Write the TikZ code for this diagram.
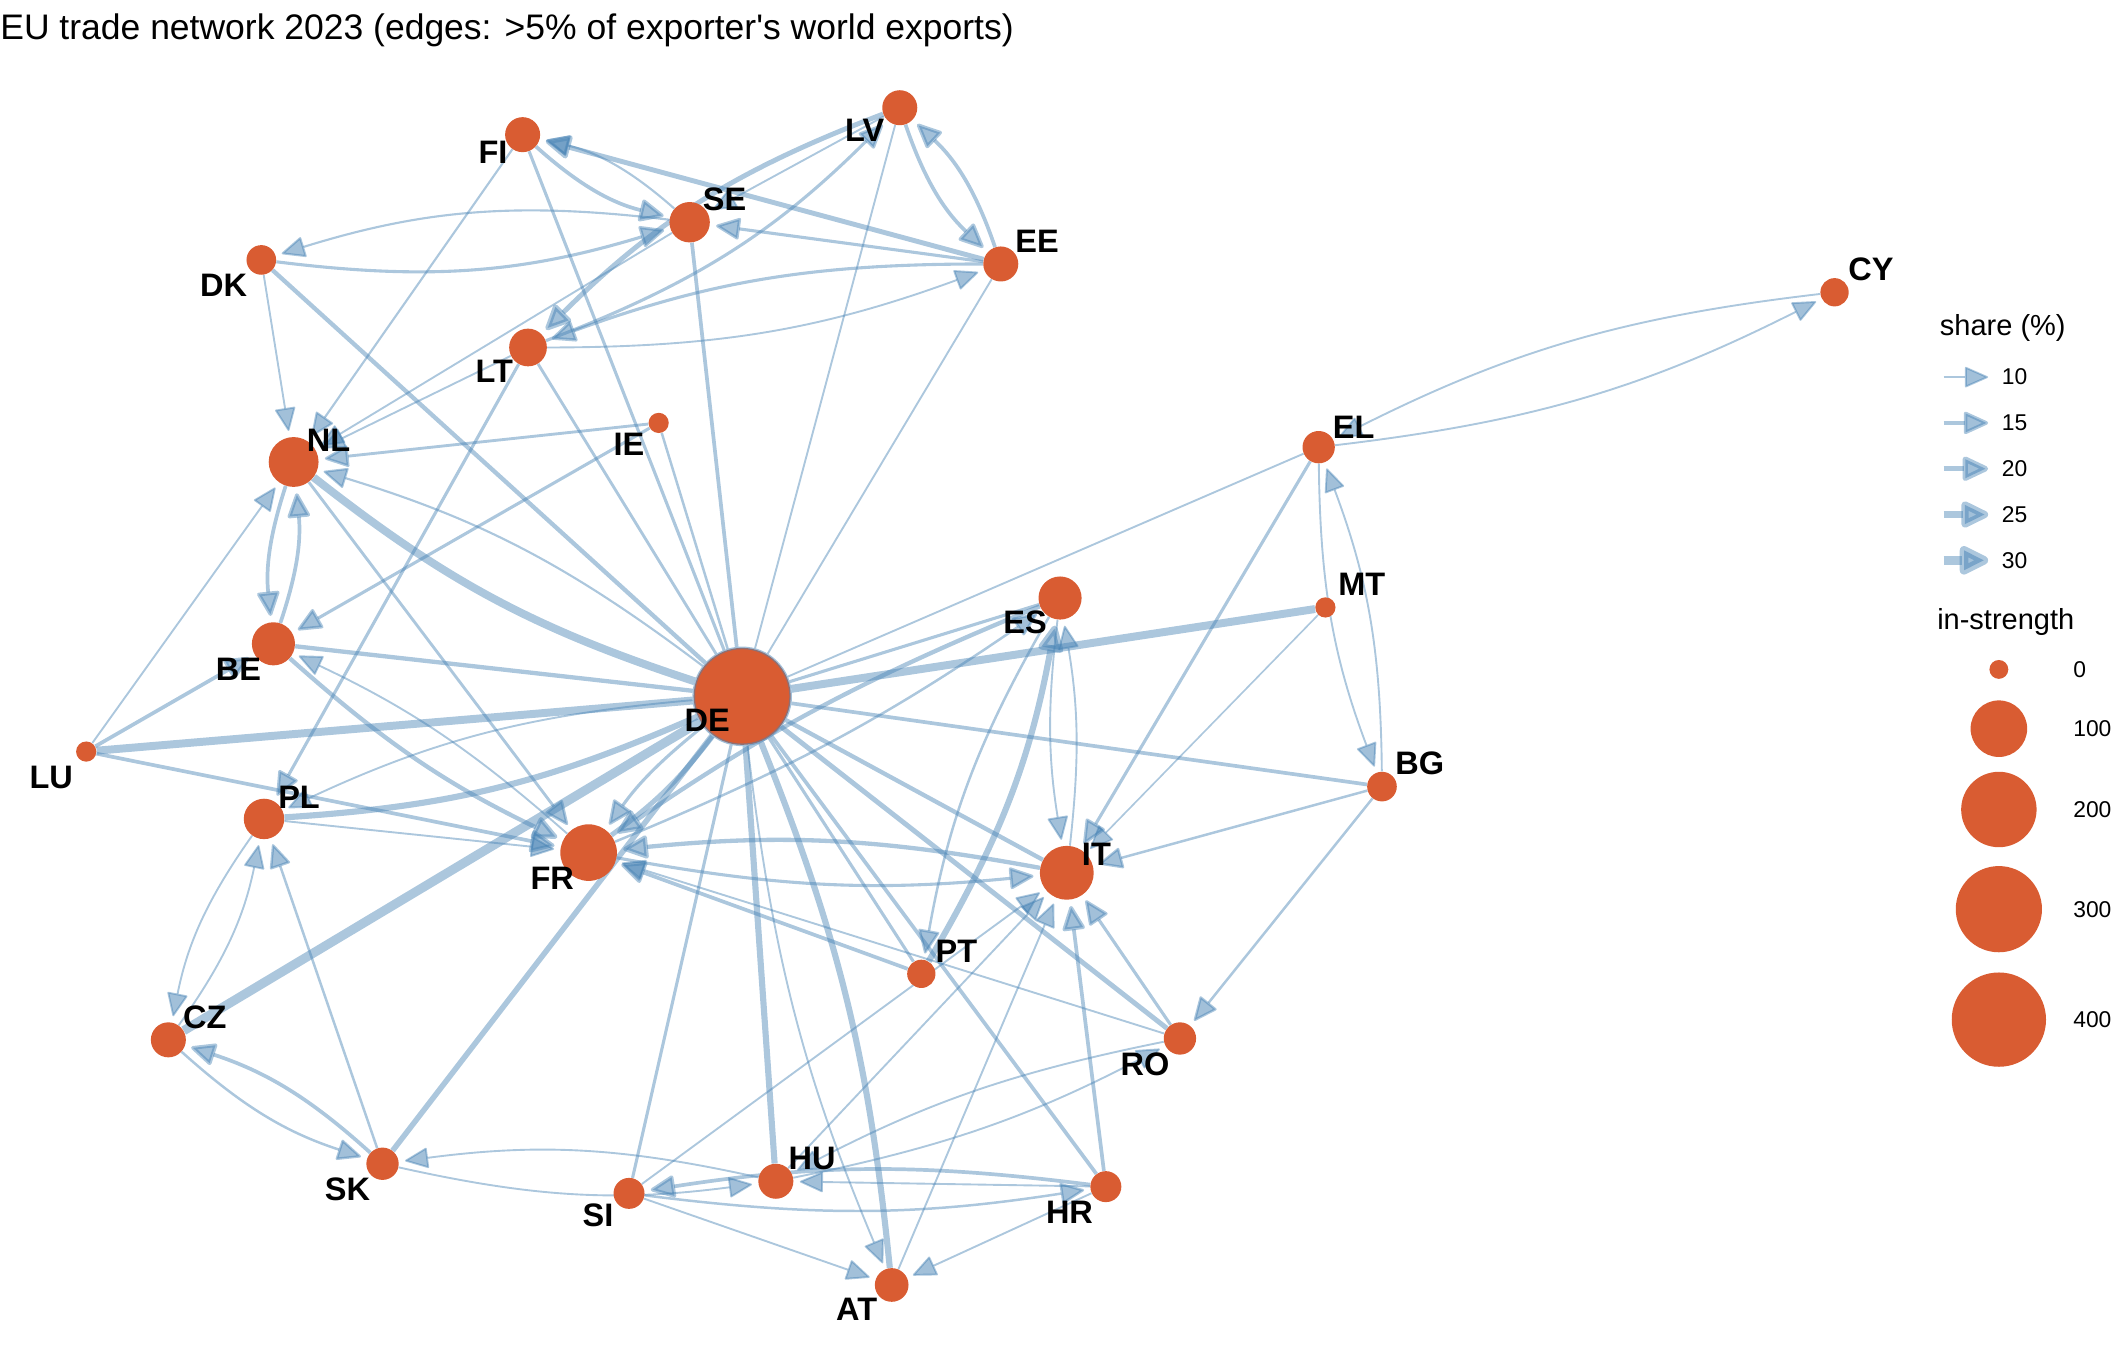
\documentclass[tikz,border=0pt]{standalone}
\usepackage{fontspec}
\setmainfont{Liberation Sans}
\usetikzlibrary{arrows.meta}
\definecolor{steel}{HTML}{4682B4}
\definecolor{nodeor}{HTML}{D95C32}
\pgfdeclarelayer{edges}
\pgfsetlayers{edges,main}
\begin{document}
\begin{tikzpicture}[x=0.7665pt,y=0.7665pt,
 cn/.style={circle,fill=nodeor,inner sep=0pt,minimum size=#1*1.533pt},
 lw/.style={line width=(#1*0.9+0.5)*0.7665pt},
 ed/.style={draw=steel,draw opacity=0.45,fill opacity=0.5,-{Triangle[length=12.5pt 1.4,width=10.5pt 1.4,fill=steel,round]},shorten >=3.5pt},
 edd/.style={draw=steel,draw opacity=0.45},
 lab/.style={font=\fontsize{18.5}{20}\selectfont\bfseries,inner sep=0pt},
 legt/.style={font=\fontsize{16.5}{18}\selectfont,inner sep=0pt,anchor=base west},
 legn/.style={font=\fontsize{13}{15}\selectfont,inner sep=0pt,anchor=west}]
\useasboundingbox (0,0) rectangle (1568,998);
% title
\node[anchor=base west,font=\fontsize{20.2}{24}\selectfont,inner sep=0pt] (title) at (0,969) {EU trade network 2023 (edges: >5\% of exporter\textquotesingle s world exports)};
% nodes
\node[cn=13] (FI) at (388,898) {};
\node[cn=13] (LV) at (668,918) {};
\node[cn=15] (SE) at (512,833) {};
\node[cn=13] (EE) at (743,802) {};
\node[cn=11] (DK) at (194,805) {};
\node[cn=14] (LT) at (392,740) {};
\node[cn=7.5] (IE) at (489,684) {};
\node[cn=18.5] (NL) at (218,655) {};
\node[cn=12] (EL) at (979,666) {};
\node[cn=10.5] (CY) at (1362,781) {};
\node[cn=7.5] (MT) at (984,547) {};
\node[cn=16] (ES) at (787,554) {};
\node[cn=16] (BE) at (203,520) {};
\node[cn=36,draw=steel,draw opacity=0.5,line width=1.5pt] (DE) at (551,481) {};
\node[cn=7.5] (LU) at (64,440) {};
\node[cn=11] (BG) at (1026,414) {};
\node[cn=15] (PL) at (196,390) {};
\node[cn=21] (FR) at (437,365) {};
\node[cn=20] (IT) at (792,350) {};
\node[cn=10.5] (PT) at (684,275) {};
\node[cn=13] (CZ) at (125,226) {};
\node[cn=12] (RO) at (876,227) {};
\node[cn=12] (SK) at (284,134) {};
\node[cn=13] (HU) at (576,121) {};
\node[cn=11.5] (SI) at (467,112) {};
\node[cn=11.5] (HR) at (821,117) {};
\node[cn=12.5] (AT) at (662,44) {};
% edges
\begin{pgfonlayer}{edges}
\draw[ed,lw=3.5] (EE) -- (FI);
\draw[ed,lw=1.2] (SE) to[bend right=14] (FI);
\draw[ed,lw=2.5] (FI) to[bend right=14] (SE);
\draw[edd,lw=2] (FI) -- (DE);
\draw[ed,lw=1.2] (FI) -- (NL);
\draw[ed,lw=2] (DK) to[bend right=12] (SE);
\draw[ed,lw=1.2] (SE) to[bend right=12] (DK);
\draw[edd,lw=3] (DK) -- (DE);
\draw[ed,lw=1] (DK) -- (NL);
\draw[edd,lw=2.5] (SE) -- (DE);
\draw[ed,lw=1] (SE) -- (NL);
\draw[ed,lw=3.5] (LV) to[bend right=12] (LT);
\draw[ed,lw=2] (LT) to[bend right=12] (LV);
\draw[ed,lw=2] (EE) to[bend right=10] (LT);
\draw[ed,lw=1] (LT) to[bend right=10] (EE);
\draw[edd,lw=1.8] (LT) -- (DE);
\draw[ed,lw=2] (LT) -- (PL);
\draw[ed,lw=1] (LT) -- (NL);
\draw[ed,lw=2.5] (LV) to[bend right=14] (EE);
\draw[ed,lw=2.5] (EE) to[bend right=14] (LV);
\draw[ed,lw=1] (LV) -- (SE);
\draw[ed,lw=2] (EE) -- (SE);
\draw[edd,lw=1] (LV) -- (DE);
\draw[edd,lw=1] (EE) -- (DE);
\draw[edd,lw=6] (NL) to[bend right=10] (DE);
\draw[ed,lw=1.2] (DE) to[bend right=10] (NL);
\draw[ed,lw=2.5] (NL) to[bend right=12] (BE);
\draw[ed,lw=2.5] (BE) to[bend right=12] (NL);
\draw[ed,lw=1.8] (NL) -- (FR);
\draw[ed,lw=1.8] (IE) -- (NL);
\draw[ed,lw=2] (IE) -- (BE);
\draw[edd,lw=1.5] (IE) -- (DE);
\draw[edd,lw=3] (BE) -- (DE);
\draw[ed,lw=3] (BE) to[bend right=8] (FR);
\draw[ed,lw=1] (FR) to[bend right=8] (BE);
\draw[edd,lw=6] (LU) -- (DE);
\draw[ed,lw=2.5] (LU) -- (BE);
\draw[ed,lw=1] (LU) -- (NL);
\draw[ed,lw=2.5] (LU) -- (FR);
\draw[edd,lw=4.5] (PL) to[bend right=10] (DE);
\draw[ed,lw=1] (DE) to[bend right=10] (PL);
\draw[ed,lw=1] (PL) -- (FR);
\draw[ed,lw=1] (PL) to[bend right=12] (CZ);
\draw[ed,lw=1] (CZ) to[bend right=12] (PL);
\draw[ed,lw=1.5] (SK) -- (PL);
\draw[edd,lw=7] (CZ) -- (DE);
\draw[ed,lw=1.5] (CZ) to[bend right=12] (SK);
\draw[ed,lw=2.5] (SK) to[bend right=12] (CZ);
\draw[edd,lw=4] (SK) -- (DE);
\draw[ed,lw=1] (HU) to[bend right=10] (SK);
\draw[ed,lw=1] (SK) to[bend right=10] (HU);
\draw[edd,lw=4.5] (HU) -- (DE);
\draw[edd,lw=4.5] (AT) to[bend right=8] (DE);
\draw[ed,lw=1] (DE) to[bend right=8] (AT);
\draw[edd,lw=2] (SI) -- (DE);
\draw[ed,lw=2.5] (HR) to[bend right=8] (SI);
\draw[ed,lw=1.5] (SI) to[bend right=8] (HR);
\draw[ed,lw=1] (HR) -- (HU);
\draw[ed,lw=1] (SI) -- (AT);
\draw[ed,lw=1] (HR) -- (AT);
\draw[ed,lw=1] (SI) -- (IT);
\draw[ed,lw=1] (HU) -- (IT);
\draw[ed,lw=1] (AT) -- (IT);
\draw[ed,lw=1] (HU) to[bend right=8] (RO);
\draw[ed,lw=1] (RO) to[bend right=8] (HU);
\draw[ed,lw=2] (RO) -- (IT);
\draw[edd,lw=3.5] (RO) -- (DE);
\draw[ed,lw=1] (RO) -- (FR);
\draw[ed,lw=1.5] (BG) -- (RO);
\draw[edd,lw=2.5] (BG) -- (DE);
\draw[ed,lw=1.5] (BG) -- (IT);
\draw[ed,lw=1] (BG) to[bend right=10] (EL);
\draw[ed,lw=1] (EL) to[bend right=10] (BG);
\draw[ed,lw=2.5] (HR) -- (IT);
\draw[edd,lw=2.5] (HR) -- (DE);
\draw[edd,lw=6] (MT) -- (DE);
\draw[ed,lw=0.8] (MT) -- (IT);
\draw[ed,lw=2] (EL) -- (IT);
\draw[edd,lw=1] (EL) -- (DE);
\draw[ed,lw=1] (EL) to[bend right=10] (CY);
\draw[ed,lw=1] (CY) to[bend right=10] (EL);
\draw[edd,lw=2] (ES) -- (DE);
\draw[ed,lw=3] (ES) to[bend right=6] (FR);
\draw[ed,lw=1.5] (FR) to[bend right=6] (ES);
\draw[ed,lw=1] (ES) to[bend right=8] (IT);
\draw[ed,lw=1] (IT) to[bend right=8] (ES);
\draw[ed,lw=1.5] (ES) to[bend right=10] (PT);
\draw[ed,lw=4.5] (PT) to[bend right=10] (ES);
\draw[ed,lw=2.5] (PT) -- (FR);
\draw[edd,lw=2] (PT) -- (DE);
\draw[edd,lw=3] (IT) -- (DE);
\draw[ed,lw=3] (IT) to[bend right=8] (FR);
\draw[ed,lw=2] (FR) to[bend right=8] (IT);
\draw[edd,lw=3.5] (FR) to[bend right=8] (DE);
\draw[ed,lw=2] (DE) to[bend right=8] (FR);
\end{pgfonlayer}
% labels
\node[lab] (lFI) at (366,885) {FI};
\node[lab] (lLV) at (642,901) {LV};
\node[lab] (lSE) at (538,850) {SE};
\node[lab] (lEE) at (770,819) {EE};
\node[lab] (lDK) at (166,786) {DK};
\node[lab] (lLT) at (367,722) {LT};
\node[lab] (lIE) at (467,668) {IE};
\node[lab] (lNL) at (244,671) {NL};
\node[lab] (lEL) at (1005,681) {EL};
\node[lab] (lCY) at (1389,798) {CY};
\node[lab] (lMT) at (1011,564) {MT};
\node[lab] (lES) at (761,536) {ES};
\node[lab] (lBE) at (177,501) {BE};
\node[lab] (lDE) at (525,463) {DE};
\node[lab] (lLU) at (38,421) {LU};
\node[lab] (lBG) at (1054,431) {BG};
\node[lab] (lPL) at (222,406) {PL};
\node[lab] (lFR) at (410,346) {FR};
\node[lab] (lIT) at (814,364) {IT};
\node[lab] (lPT) at (710,292) {PT};
\node[lab] (lCZ) at (152,243) {CZ};
\node[lab] (lRO) at (850,208) {RO};
\node[lab] (lSK) at (258,115) {SK};
\node[lab] (lHU) at (603,138) {HU};
\node[lab] (lSI) at (444,96) {SI};
\node[lab] (lHR) at (794,98) {HR};
\node[lab] (lAT) at (636,26) {AT};
% legend: share
\node[legt] (lshare) at (1440,749) {share (\%)};
\coordinate (a1) at (1443,718); \coordinate (b1) at (1476,718);
\coordinate (a2) at (1443,684); \coordinate (b2) at (1476,684);
\coordinate (a3) at (1443,650); \coordinate (b3) at (1476,650);
\coordinate (a4) at (1443,616); \coordinate (b4) at (1476,616);
\coordinate (a5) at (1443,582); \coordinate (b5) at (1476,582);
\draw[ed,lw=1.0,shorten >=0pt] (a1) -- (b1);
\draw[ed,lw=2.4,shorten >=0pt] (a2) -- (b2);
\draw[ed,lw=3.9,shorten >=0pt] (a3) -- (b3);
\draw[ed,lw=5.4,shorten >=0pt] (a4) -- (b4);
\draw[ed,lw=6.9,shorten >=0pt] (a5) -- (b5);
\node[legn] (n10) at (1486,718) {10};
\node[legn] (n15) at (1486,684) {15};
\node[legn] (n20) at (1486,650) {20};
\node[legn] (n25) at (1486,616) {25};
\node[legn] (n30) at (1486,582) {30};
% legend: in-strength
\node[legt] (lin) at (1438,531) {in-strength};
\node[cn=7] (s0) at (1484,501) {};
\node[cn=21] (s1) at (1484,457) {};
\node[cn=28] (s2) at (1484,397) {};
\node[cn=32] (s3) at (1484,323) {};
\node[cn=35] (s4) at (1484,241) {};
\node[legn] (m0) at (1539,501) {0};
\node[legn] (m1) at (1539,457) {100};
\node[legn] (m2) at (1539,397) {200};
\node[legn] (m3) at (1539,323) {300};
\node[legn] (m4) at (1539,241) {400};
\end{tikzpicture}
\end{document}
